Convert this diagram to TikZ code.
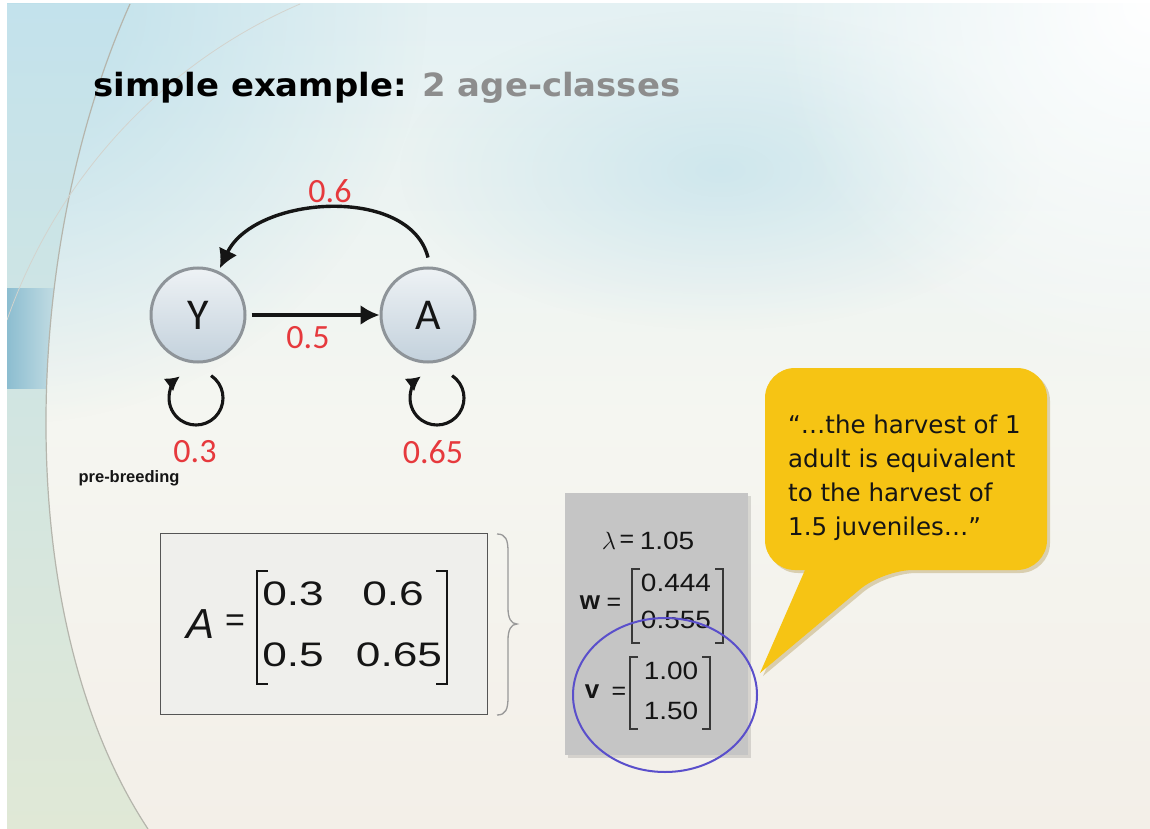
\documentclass[tikz,border=0pt]{standalone}
\usepackage{fontspec}
\usepackage{graphicx}
\usetikzlibrary{arrows.meta,shapes.geometric,calc,fadings}
\setmainfont{Liberation Sans}
\newfontfamily\calfont{Carlito}
\newfontfamily\dvfont{DejaVu Sans}
\definecolor{bgtop}{HTML}{E4F1F3}
\definecolor{bgmid}{HTML}{F5F6F1}
\definecolor{bgbot}{HTML}{F3EFE8}
\definecolor{skyblue}{HTML}{BCDFEA}
\definecolor{lefttop}{HTML}{C3E2EC}
\definecolor{bandblue}{HTML}{8CBDD0}
\definecolor{bandlight}{HTML}{D3E6E9}
\definecolor{leftbot}{HTML}{E0E8D6}
\definecolor{arcgray}{HTML}{B5B5AC}
\definecolor{labred}{HTML}{E6393D}
\definecolor{ring}{HTML}{8E9499}
\definecolor{balltop}{HTML}{EEF2F5}
\definecolor{ballbot}{HTML}{C3D1DC}
\definecolor{boxfill}{HTML}{EFEFEC}
\definecolor{boxline}{HTML}{555555}
\definecolor{grayfill}{HTML}{C5C5C5}
\definecolor{ellblue}{HTML}{5A4FCB}
\definecolor{bubble}{HTML}{F6C414}
\definecolor{bubshadow}{HTML}{A88A3A}
\definecolor{titlegray}{HTML}{8D8D8D}
\definecolor{inkblack}{HTML}{151515}
\tikzfading[name=radfade, inner color=transparent!0, outer color=transparent!100]
\begin{document}
\begin{tikzpicture}[x=1pt,y=-1pt,
  state/.style={circle, minimum size=94pt, inner sep=0pt, draw=ring, line width=3pt,
    top color=balltop, bottom color=ballbot, text=inkblack,
    font=\calfont\fontsize{44}{44}\selectfont},
  arr/.style={draw=inkblack, line width=3.4pt, -{Latex[length=19pt,width=20pt]}},
  looparr/.style={draw=inkblack, line width=3.1pt, -{Latex[length=14pt,width=16pt]}},
  lab/.style={text=labred, inner sep=0pt, font=\calfont\fontsize{34}{34}\selectfont},
  mtxt/.style={inner sep=0pt, text=inkblack, font=\fontsize{34}{34}\selectfont},
  gtxt/.style={inner sep=0pt, text=inkblack, font=\fontsize{25}{25}\selectfont},
  brk/.style={draw=inkblack, line width=2.8pt},
  gbrk/.style={draw=inkblack!85, line width=1.7pt},
  btxt/.style={anchor=base west, inner sep=0pt, text=inkblack, font=\dvfont\fontsize{24.5}{24.5}\selectfont}
]
\useasboundingbox (0,0) rectangle (1150,829);
\fill[white] (0,0) rectangle (1150,829);
% ---------- background ----------
\begin{scope}
  \clip (7,4) rectangle (1150,829);
  \shade[top color=bgtop, bottom color=bgbot, middle color=bgmid] (7,4) rectangle (1150,829);
  \fill[skyblue, path fading=radfade] (7,4) circle[radius=420];
  \fill[skyblue, opacity=0.6, path fading=radfade] (720,170) ellipse[x radius=320, y radius=160];
  \fill[white, path fading=radfade] (1150,4) circle[radius=380];
  \begin{scope}
    \clip (7,4) -- (130,4) .. controls (20,250) and (10,620) .. (148,829) -- (7,829) -- cycle;
    \shade[top color=lefttop, bottom color=leftbot] (7,4) rectangle (160,829);
    \shade[left color=bandblue, right color=bandlight] (7,288) rectangle (70,388);
  \end{scope}
  \draw[arcgray, line width=1.2pt] (130,4) .. controls (20,250) and (10,620) .. (148,829);
  \draw[arcgray!60, line width=0.8pt] (300,4) .. controls (170,60) and (60,170) .. (7,320);
\end{scope}
% ---------- title ----------
\node[anchor=base west, inner sep=0pt] (title) at (93,97)
  {\scalebox{1.06}[1]{\dvfont\bfseries\fontsize{32}{32}\selectfont simple example: \textcolor{titlegray}{2 age-classes}}};
% ---------- life cycle graph ----------
\node[state] (Y) at (198,315) {Y};
\node[state] (A) at (428,315) {A};
\draw[arr, shorten <=5pt] (Y) -- (A);
\draw[arr, shorten >=3pt] ([yshift=9pt]A.north) .. controls (410,185) and (255,195) .. (Y.65);
\coordinate (Yl) at (196,398);
\coordinate (Al) at (437,398);
\draw[looparr] ($(Yl)+(-56:27)$) arc[start angle=-56, end angle=233, radius=27];
\draw[looparr] ($(Al)+(-56:27)$) arc[start angle=-56, end angle=233, radius=27];
\node[lab] (l06) at (330,191) {0.6};
\node[lab] (l05) at (308,338) {0.5};
\node[lab] (l03) at (195,452) {0.3};
\node[lab] (l065) at (433,452) {0.65};
\node[inner sep=0pt, text=inkblack, font=\bfseries\fontsize{16.5}{16.5}\selectfont] (pb) at (129,478) {pre-breeding};
% ---------- projection matrix ----------
\node[draw=boxline, fill=boxfill, line width=1.2pt, minimum width=327pt, minimum height=181pt, inner sep=0pt] (Abox) at (324,624) {};
\node[mtxt, font=\itshape\fontsize{42}{42}\selectfont] (Asym) at (201,624) {A};
\node[mtxt] (Aeq) at (235,623) {=};
\draw[brk] (268,571) -- (257,571) -- (257,684) -- (268,684);
\draw[brk] (436,571) -- (447,571) -- (447,684) -- (436,684);
\node[mtxt] (a11) at (293,594) {\scalebox{1.3}[1]{0.3}};
\node[mtxt] (a12) at (393,594) {\scalebox{1.3}[1]{0.6}};
\node[mtxt] (a21) at (293,655) {\scalebox{1.3}[1]{0.5}};
\node[mtxt] (a22) at (399,655) {\scalebox{1.3}[1]{0.65}};
\draw[draw=gray!80, line width=1.3pt] (497,534) .. controls (506,534) and (508,540) .. (508,552)
  -- (508,608) .. controls (508,618) and (511,624) .. (517,624)
  .. controls (511,624) and (508,630) .. (508,640)
  -- (508,697) .. controls (508,709) and (506,715) .. (497,715);
% ---------- eigen results box ----------
\fill[black, opacity=0.12] (568,496) rectangle (751,758);
\node[fill=grayfill, minimum width=183pt, minimum height=262pt, inner sep=0pt] (G) at (656.5,624) {};
\node[gtxt, font=\fontsize{30}{30}\selectfont] (lam) at (609,541) {$\lambda$};
\node[gtxt] (lameq) at (627,541) {=};
\node[gtxt] (lamv) at (667,541) {\scalebox{1.12}[1]{1.05}};
\node[gtxt, font=\bfseries\fontsize{26}{26}\selectfont] (wsym) at (590,603) {w};
\node[gtxt] (weq) at (614,604) {=};
\draw[gbrk] (640,569) -- (632,569) -- (632,643) -- (640,643);
\draw[gbrk] (715,569) -- (723,569) -- (723,643) -- (715,643);
\node[gtxt] (w1) at (676,583) {\scalebox{1.12}[1]{0.444}};
\node[gtxt] (w2) at (676,620) {\scalebox{1.12}[1]{0.555}};
\node[gtxt, font=\bfseries\fontsize{26}{26}\selectfont] (vsym) at (592,692) {v};
\node[gtxt] (veq) at (619,693) {=};
\draw[gbrk] (638,657) -- (630,657) -- (630,729) -- (638,729);
\draw[gbrk] (702,657) -- (710,657) -- (710,729) -- (702,729);
\node[gtxt] (v1) at (671,671) {\scalebox{1.12}[1]{1.00}};
\node[gtxt] (v2) at (671,711) {\scalebox{1.12}[1]{1.50}};
\node[ellipse, draw=ellblue, line width=2pt, minimum width=184pt, minimum height=154pt, inner sep=0pt] (E) at (665,695) {};
% ---------- speech bubble ----------
\fill[bubshadow, opacity=0.35, rounded corners=30pt] (808,573) -- (768,573) -- (768,371) -- (1050,371) -- (1050,573) -- (886,573) [sharp corners] -- (763,676) -- cycle;
\fill[bubble, rounded corners=30pt] (805,570) -- (765,570) -- (765,368) -- (1047,368) -- (1047,570) -- (883,570) [sharp corners] -- (760,673) -- cycle;
\node[btxt] (b1) at (788,433) {“…the harvest of 1};
\node[btxt] (b2) at (788,467) {adult is equivalent};
\node[btxt] (b3) at (788,501) {to the harvest of};
\node[btxt] (b4) at (788,535) {1.5 juveniles…”};
\end{tikzpicture}
\end{document}
